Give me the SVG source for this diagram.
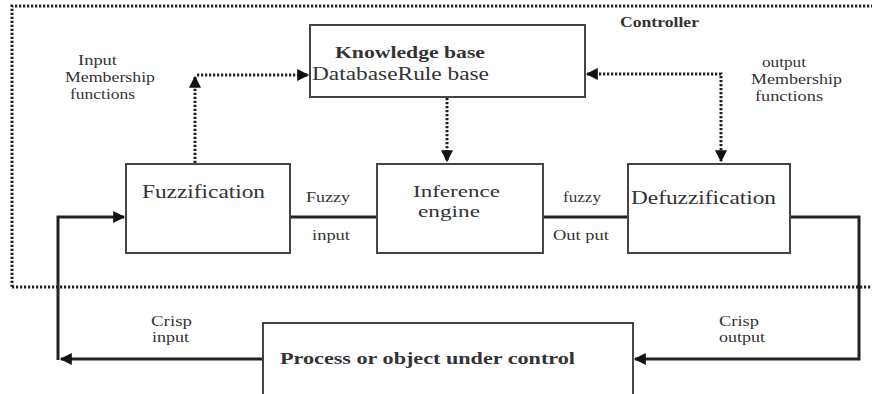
<svg xmlns="http://www.w3.org/2000/svg" width="872" height="394" viewBox="0 0 872 394">
<style>
.box{fill:#fff;stroke:#444;stroke-width:2}
.t{font-family:"Liberation Serif","Times New Roman",serif;fill:#333}
.b{font-weight:bold}
.s{font-size:14px}
.dot{fill:none;stroke:#222;stroke-width:3;stroke-dasharray:2.2 1.8}
.sol{fill:none;stroke:#222;stroke-width:3}
</style>
<defs>
<marker id="ah" viewBox="0 0 10 10" refX="9" refY="5" markerWidth="4.5" markerHeight="4" orient="auto-start-reverse" markerUnits="strokeWidth">
<path d="M0,0 L10,5 L0,10 z" fill="#111"/>
</marker>
</defs>
<rect width="872" height="394" fill="#fff"/>
<g id="controller-boundary">
<path class="dot" d="M12,287 V6 H872"/>
<path class="dot" d="M12,287 H872"/>
<text class="t b" x="620" y="27" font-size="14" textLength="79" lengthAdjust="spacingAndGlyphs">Controller</text>
</g>
<g id="connectors">
<path class="dot" d="M195,163 V77" marker-end="url(#ah)"/>
<path class="dot" d="M197,75 H308" marker-end="url(#ah)"/>
<path class="dot" d="M587,74 H721 V161" marker-start="url(#ah)" marker-end="url(#ah)"/>
<path class="dot" d="M447,98 V161" marker-end="url(#ah)"/>
<path class="sol" d="M290,217 H377"/>
<path class="sol" d="M543,217 H628"/>
<path class="sol" d="M790,217 H859 V359 H635" marker-end="url(#ah)"/>
<path class="sol" d="M263,359 H61" marker-end="url(#ah)"/>
<path class="sol" d="M58,360 V217 H124" marker-end="url(#ah)"/>
<text class="t s" x="306" y="202" textLength="44" lengthAdjust="spacingAndGlyphs">Fuzzy</text>
<text class="t s" x="312" y="240" textLength="38" lengthAdjust="spacingAndGlyphs">input</text>
<text class="t s" x="563" y="202" textLength="38" lengthAdjust="spacingAndGlyphs">fuzzy</text>
<text class="t s" x="553" y="240" textLength="56" lengthAdjust="spacingAndGlyphs">Out put</text>
<text class="t s" x="151" y="326" textLength="41" lengthAdjust="spacingAndGlyphs">Crisp</text>
<text class="t s" x="152" y="342" textLength="37" lengthAdjust="spacingAndGlyphs">input</text>
<text class="t s" x="719" y="326" textLength="40" lengthAdjust="spacingAndGlyphs">Crisp</text>
<text class="t s" x="719" y="342" textLength="46" lengthAdjust="spacingAndGlyphs">output</text>
<text class="t s" x="78" y="65" textLength="39" lengthAdjust="spacingAndGlyphs">Input</text>
<text class="t s" x="65" y="82" textLength="90" lengthAdjust="spacingAndGlyphs">Membership</text>
<text class="t s" x="70" y="99" textLength="65" lengthAdjust="spacingAndGlyphs">functions</text>
<text class="t s" x="762" y="67" textLength="44" lengthAdjust="spacingAndGlyphs">output</text>
<text class="t s" x="751" y="84" textLength="91" lengthAdjust="spacingAndGlyphs">Membership</text>
<text class="t s" x="755" y="101" textLength="68" lengthAdjust="spacingAndGlyphs">functions</text>
</g>
<g id="knowledge-base">
<rect class="box" x="310" y="25" width="275" height="72"/>
<text class="t b" x="335" y="58" font-size="16" textLength="150" lengthAdjust="spacingAndGlyphs">Knowledge base</text>
<text class="t" x="312" y="80" font-size="18" textLength="177" lengthAdjust="spacingAndGlyphs">DatabaseRule base</text>
</g>
<g id="fuzzification">
<rect class="box" x="126" y="164" width="164" height="89"/>
<text class="t" x="142" y="198" font-size="19" textLength="123" lengthAdjust="spacingAndGlyphs">Fuzzification</text>
</g>
<g id="inference-engine">
<rect class="box" x="377" y="164" width="166" height="89"/>
<text class="t" x="413" y="197" font-size="17" textLength="87" lengthAdjust="spacingAndGlyphs">Inference</text>
<text class="t" x="418" y="217" font-size="17" textLength="62" lengthAdjust="spacingAndGlyphs">engine</text>
</g>
<g id="defuzzification">
<rect class="box" x="628" y="164" width="162" height="89"/>
<text class="t" x="631" y="204" font-size="19" textLength="145" lengthAdjust="spacingAndGlyphs">Defuzzification</text>
</g>
<g id="process">
<rect class="box" x="263" y="323" width="370" height="80"/>
<text class="t b" x="280" y="364" font-size="16" textLength="295" lengthAdjust="spacingAndGlyphs">Process or object under control</text>
</g>
</svg>
